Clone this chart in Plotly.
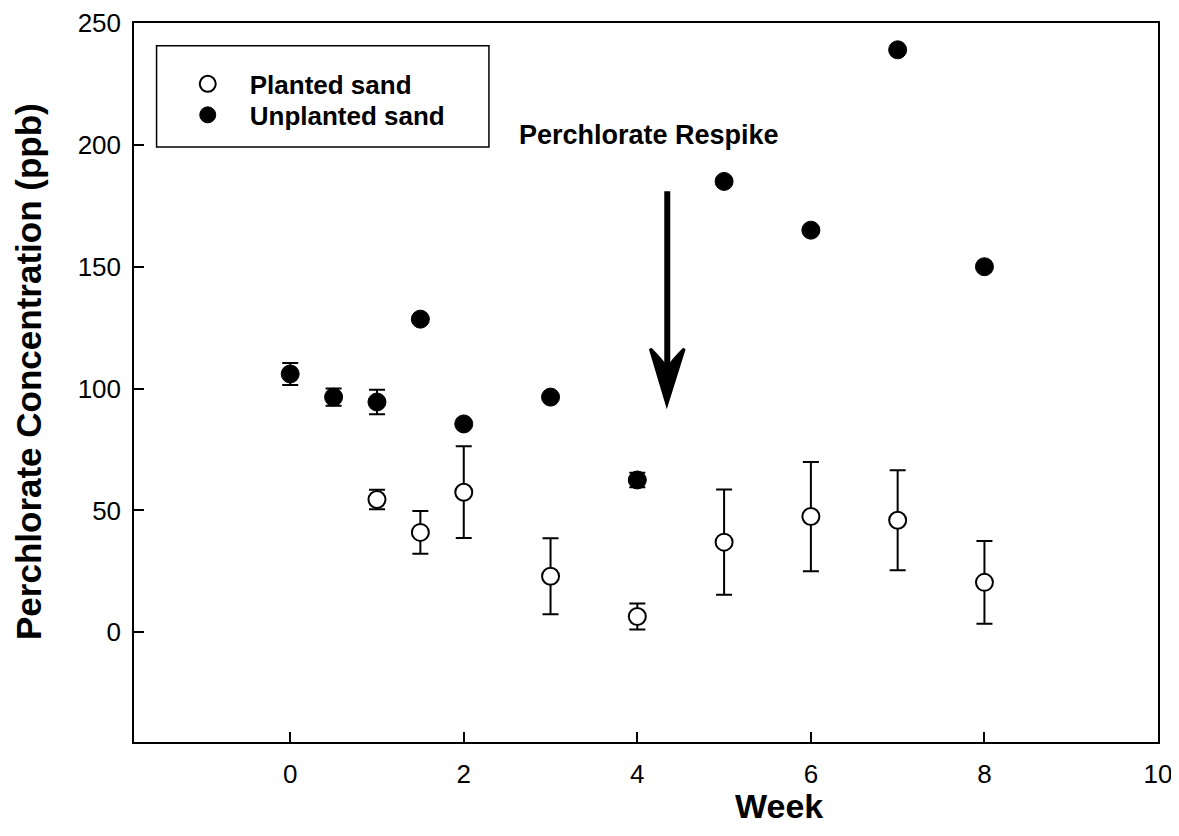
import plotly.graph_objects as go

# === data
week_planted = [1, 1.5, 2, 3, 4, 5, 6, 7, 8]
conc_planted = [54.5, 41, 57.5, 23, 6.5, 37, 47.5, 46, 20.5]
err_planted = [4, 8.8, 18.8, 15.6, 5.3, 21.6, 22.4, 20.5, 17]

week_unplanted = [0, 0.5, 1, 1.5, 2, 3, 4, 5, 6, 7, 8]
conc_unplanted = [106, 96.5, 94.5, 128.5, 85.5, 96.5, 62.5, 185, 165, 239, 150]
err_unplanted = [4.5, 3.5, 5, 0, 0, 0, 3, 0, 0, 0, 0]

x_ticks = [0, 2, 4, 6, 8, 10]
y_ticks = [0, 50, 100, 150, 200, 250]

FONT = "Liberation Sans, Arial, sans-serif"

fig = go.Figure()
fig.add_trace(go.Scatter(
    x=week_planted, y=conc_planted, mode='markers', name='<b>Planted sand</b>',
    marker=dict(symbol='circle', size=17, color='white', line=dict(color='black', width=2)),
    error_y=dict(type='data', array=err_planted, color='black', thickness=2, width=8),
    legend='legend',
))
fig.add_trace(go.Scatter(
    x=week_unplanted, y=conc_unplanted, mode='markers', name='<b>Unplanted sand</b>',
    marker=dict(symbol='circle', size=18, color='black', line=dict(color='black', width=1)),
    error_y=dict(type='data', array=err_unplanted, color='black', thickness=2, width=8),
    legend='legend2',
))

# legend box
fig.add_shape(type='rect', xref='x', yref='y', x0=-1.54, x1=2.29, y0=199.1, y1=240.7,
              line=dict(color='black', width=1.5), fillcolor='white', layer='below')

# respike arrow
fig.add_shape(type='line', xref='x', yref='y', x0=4.345, x1=4.345, y0=181, y1=109,
              line=dict(color='black', width=6))
fig.add_shape(type='path', xref='x', yref='y',
              path='M 4.34,93.6 L 4.15,116.3 Q 4.3,111 4.345,108 Q 4.39,111 4.54,116.3 Z',
              fillcolor='black', line=dict(color='black', width=3))
fig.add_annotation(x=4.14, y=204, xref='x', yref='y', text='<b>Perchlorate Respike</b>',
                   showarrow=False, font=dict(family=FONT, size=27, color='black'))

# axis titles as annotations (placed like the original, Week sits right of centre)
fig.add_annotation(x=0.63, y=0, xref='paper', yref='paper', yanchor='middle', yshift=-64,
                   text='<b>Week</b>', showarrow=False,
                   font=dict(family=FONT, size=34, color='black'))
fig.add_annotation(x=0, y=0.5146, xref='paper', yref='paper', xanchor='center', xshift=-106,
                   text='<b>Perchlorate Concentration (ppb)</b>', textangle=-90, showarrow=False,
                   font=dict(family=FONT, size=35, color='black'))

fig.update_xaxes(range=[-1.8, 10], tickmode='array', tickvals=x_ticks,
                 ticks='inside', ticklen=10, tickwidth=1.5, tickcolor='black',
                 showline=True, linecolor='black', linewidth=1.5, mirror=True,
                 showgrid=False, zeroline=False, ticklabelstandoff=8,
                 automargin=False, ticklabeloverflow='allow',
                 tickfont=dict(family=FONT, size=26, color='black'))
fig.update_yaxes(range=[-45, 250], tickmode='array', tickvals=y_ticks,
                 ticks='inside', ticklen=10, tickwidth=1.5, tickcolor='black',
                 showline=True, linecolor='black', linewidth=1.5, mirror=True,
                 showgrid=False, zeroline=False, ticklabelstandoff=6,
                 automargin=False, ticklabeloverflow='allow',
                 tickfont=dict(family=FONT, size=26, color='black'))

leg_style = dict(xanchor='left', yanchor='middle', bgcolor='rgba(0,0,0,0)', borderwidth=0,
                 itemwidth=74, font=dict(family=FONT, size=26, color='black'))
fig.update_layout(
    width=1163, height=820,
    margin=dict(l=126, r=13, t=15, b=86),
    plot_bgcolor='white', paper_bgcolor='white',
    showlegend=True,
    legend=dict(x=0.031, y=0.9152, **leg_style),
    legend2=dict(x=0.031, y=0.8721, **leg_style),
)

fig.write_html("out.html")
